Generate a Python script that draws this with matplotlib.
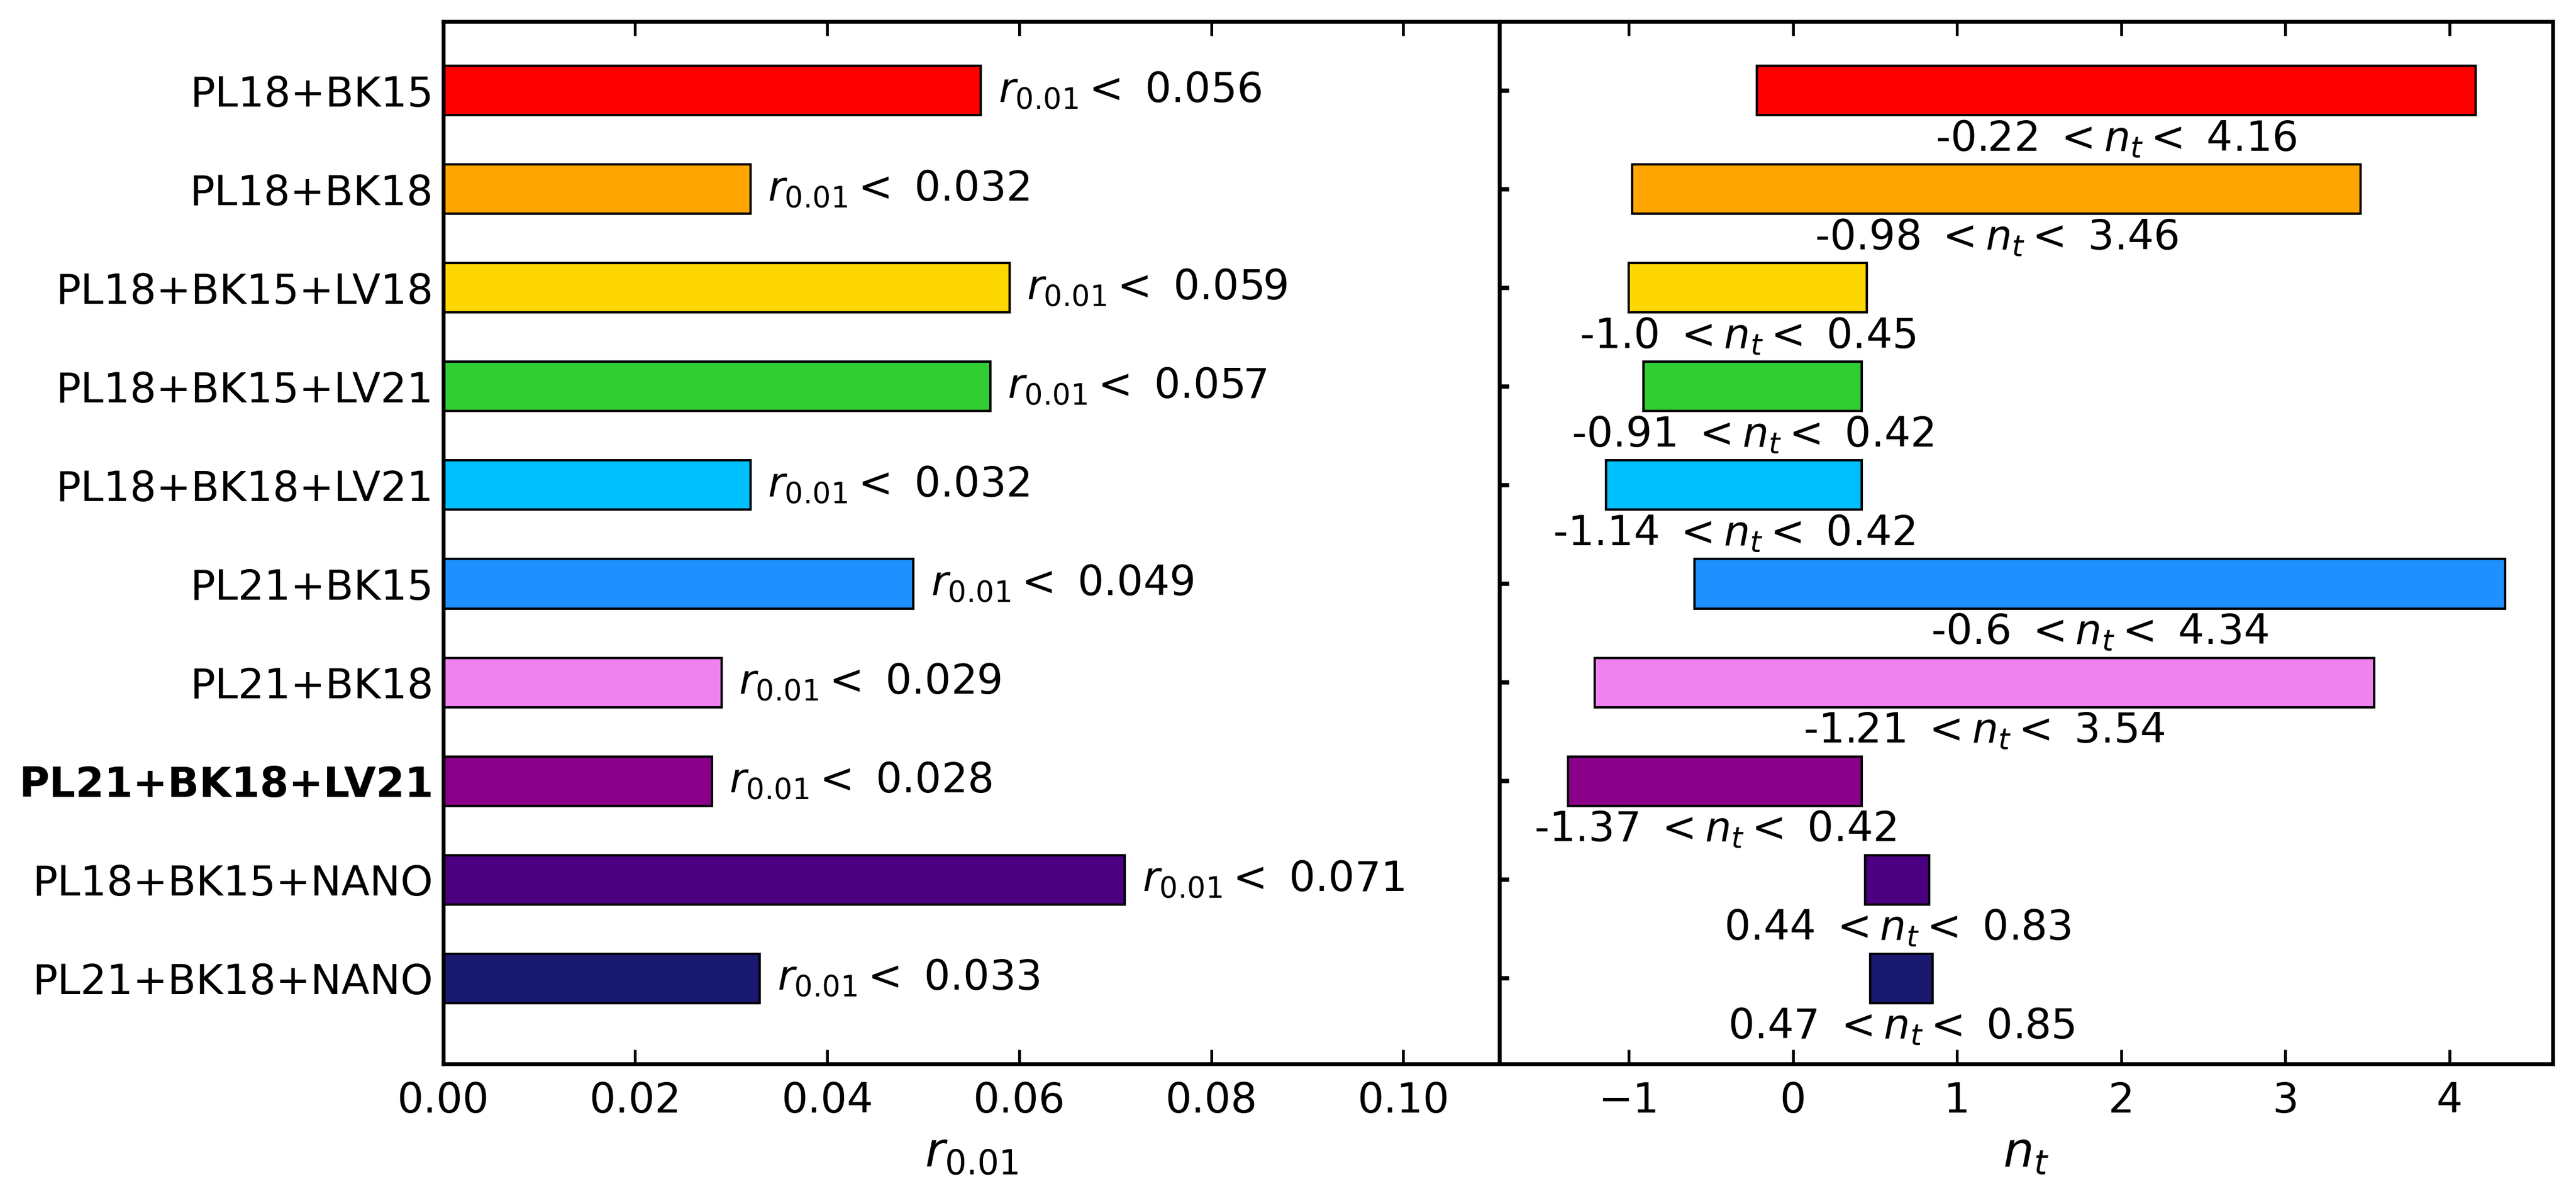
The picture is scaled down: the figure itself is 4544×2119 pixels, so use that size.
import numpy as np
import matplotlib
matplotlib.use('Agg')
import matplotlib.pyplot as plt

labels = ['PL18+BK15', 'PL18+BK18', 'PL18+BK15+LV18', 'PL18+BK15+LV21',
          'PL18+BK18+LV21', 'PL21+BK15', 'PL21+BK18', 'PL21+BK18+LV21',
          'PL18+BK15+NANO', 'PL21+BK18+NANO']
colors = ['red', 'orange', 'gold', 'limegreen', 'deepskyblue', 'dodgerblue',
          'violet', 'darkmagenta', 'indigo', 'midnightblue']
r_upper = [0.056, 0.032, 0.059, 0.057, 0.032, 0.049, 0.029, 0.028, 0.071, 0.033]
nt_low  = [-0.22, -0.98, -1.0, -0.91, -1.14, -0.6, -1.21, -1.37, 0.44, 0.47]
nt_high = [4.16, 3.46, 0.45, 0.42, 0.42, 4.34, 3.54, 0.42, 0.83, 0.85]
bold_label = 'PL21+BK18+LV21'

y = np.arange(len(labels))
fs = 17.5

fig = plt.figure(figsize=(4544/300, 2119/300), dpi=300)
ax1 = fig.add_axes([0.172, 0.114, 0.410, 0.868])
ax2 = fig.add_axes([0.582, 0.114, 0.409, 0.868])

# left: upper limits on r
ax1.barh(y, r_upper, height=0.5, color=colors, edgecolor='black', linewidth=1.0)
for yi, v in zip(y, r_upper):
    ax1.text(v + 0.0018, yi, r'$r_{0.01} <$ ' + str(v), va='center', ha='left', fontsize=fs)
ax1.set_xlim(0, 0.11)
ax1.set_ylim(9.87, -0.7)
ax1.set_yticks(y)
ax1.set_yticklabels(labels, fontsize=fs)
for lab in ax1.get_yticklabels():
    if lab.get_text() == bold_label:
        lab.set_fontweight('bold')
ax1.set_xticks([0, 0.02, 0.04, 0.06, 0.08, 0.10])
ax1.tick_params(axis='x', direction='in', top=True, length=6, width=1.2, labelsize=fs, pad=7)
ax1.tick_params(axis='y', length=0, pad=4)
ax1.set_xlabel(r'$r_{0.01}$', fontsize=20.5)

# right: ranges on n_t
ax2.barh(y, np.array(nt_high) - np.array(nt_low), left=nt_low, height=0.5,
         color=colors, edgecolor='black', linewidth=1.0)
for yi, lo, hi in zip(y, nt_low, nt_high):
    ax2.text((lo + hi) / 2, yi + 0.49, str(lo) + r' $< n_t <$ ' + str(hi),
             va='center', ha='center', fontsize=fs)
ax2.set_xlim(-1.79, 4.63)
ax2.set_ylim(9.87, -0.7)
ax2.set_yticks(y)
ax2.set_yticklabels([])
ax2.set_xticks([-1, 0, 1, 2, 3, 4])
ax2.tick_params(axis='x', direction='in', top=True, length=6, width=1.2, labelsize=fs, pad=7)
ax2.tick_params(axis='y', direction='in', length=4, width=1.8)
ax2.set_xlabel(r'$n_t$', fontsize=20.5)

for ax in (ax1, ax2):
    for s in ax.spines.values():
        s.set_linewidth(1.6)

fig.savefig('out.png', dpi=300)
